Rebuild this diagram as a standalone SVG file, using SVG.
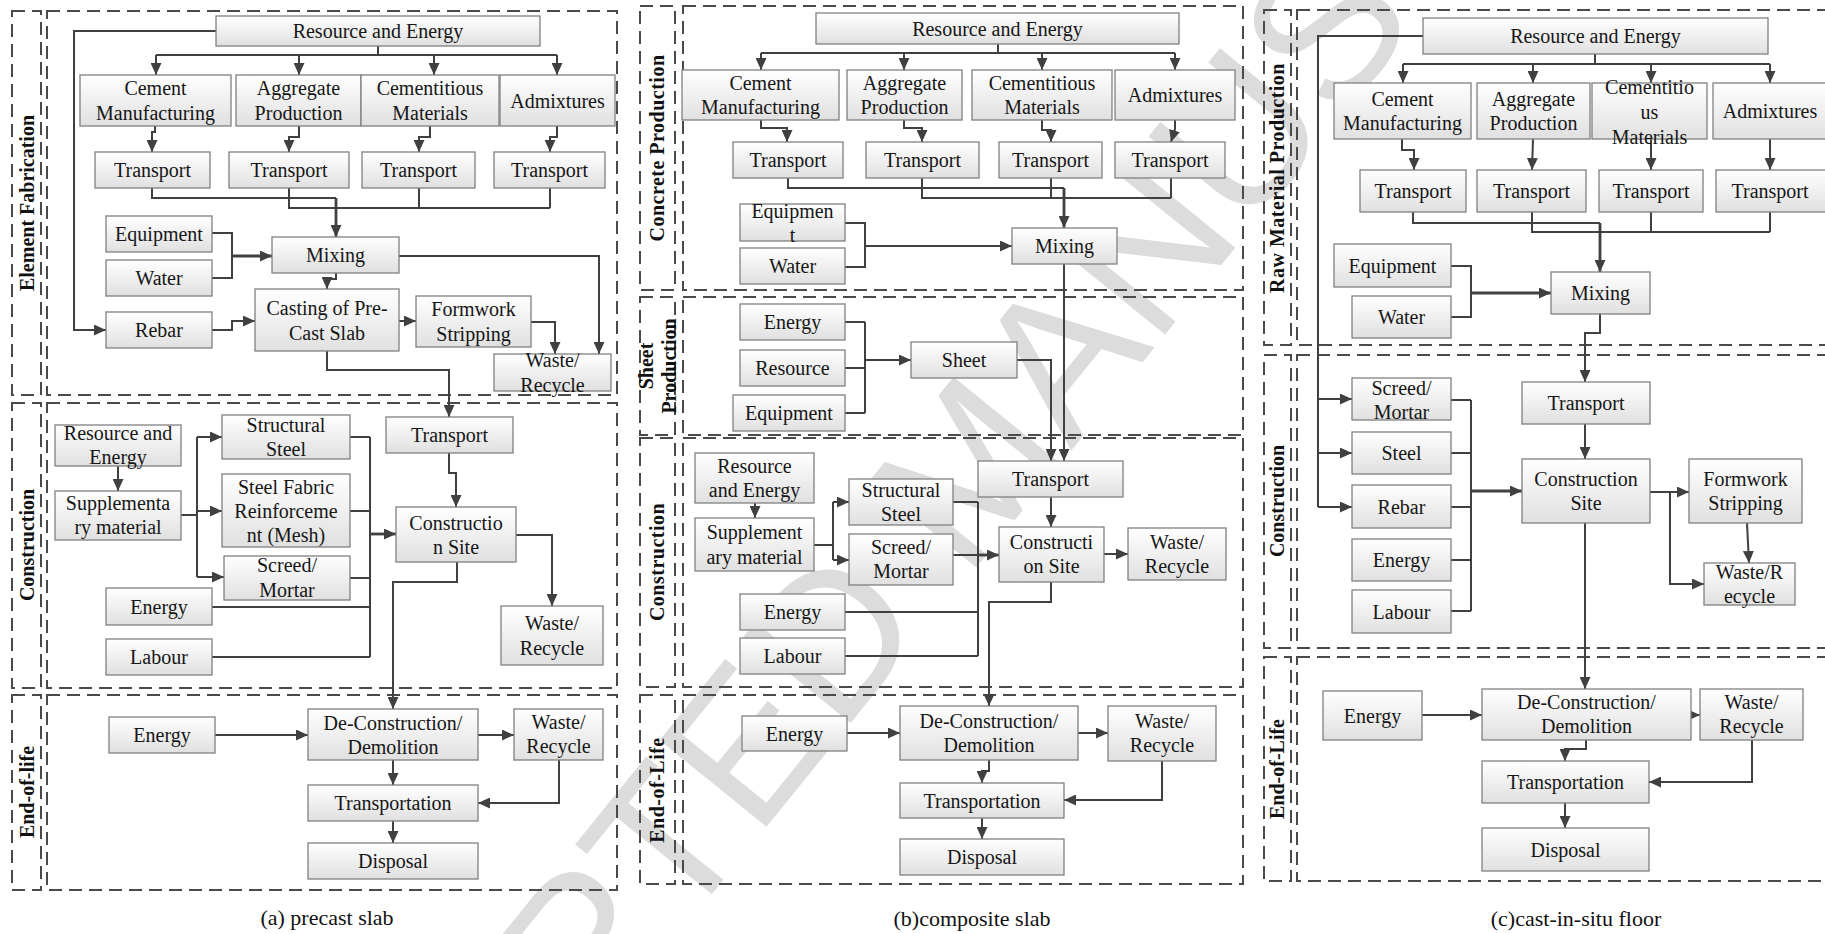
<svg xmlns="http://www.w3.org/2000/svg" width="1825" height="934" viewBox="0 0 1825 934">
<defs>
<linearGradient id="gr" x1="0" y1="0" x2="0" y2="1">
<stop offset="0" stop-color="#ffffff"/>
<stop offset="1" stop-color="#e0e0e0"/>
</linearGradient>
<marker id="ah" markerUnits="userSpaceOnUse" markerWidth="13" markerHeight="11" refX="12" refY="5.5" orient="auto">
<path d="M0,0 L12,5.5 L0,11 z" fill="#404040"/>
</marker>
<style>
.n rect{fill:url(#gr);stroke:#808080;stroke-width:1.3}
.t{font-family:"Liberation Serif","Times New Roman",serif;font-size:20px;text-anchor:middle;dominant-baseline:central;fill:#161616}
.lb{font-family:"Liberation Serif","Times New Roman",serif;font-size:20px;font-weight:bold;text-anchor:middle;dominant-baseline:central;fill:#111}
.cap{font-family:"Liberation Serif","Times New Roman",serif;font-size:22px;text-anchor:middle;dominant-baseline:central;fill:#111}
.fr{fill:none;stroke:#4a4a4a;stroke-width:2;stroke-dasharray:13 7}
.c path{fill:none;stroke:#404040;stroke-width:2}
.c path.a{marker-end:url(#ah)}
.c path.k{stroke-width:2.8}
.wm{font-family:"Liberation Sans",Arial,sans-serif;font-size:200px;fill:#dcdcdc;text-anchor:middle}
</style>
</defs>
<rect x="0" y="0" width="1825" height="934" fill="#ffffff"/>
<text class="wm" transform="translate(966,466) rotate(-51)" dy="0.36em">ACCEPTED MANUSCRIPT</text>

<g id="frames">
<rect class="fr" x="12" y="11" width="29" height="384"/>
<rect class="fr" x="47" y="11" width="570" height="384"/>
<rect class="fr" x="12" y="403" width="29" height="285"/>
<rect class="fr" x="47" y="403" width="570" height="285"/>
<rect class="fr" x="12" y="695" width="29" height="195"/>
<rect class="fr" x="47" y="695" width="570" height="195"/>
<rect class="fr" x="640" y="6" width="35" height="284"/>
<rect class="fr" x="683" y="6" width="560" height="284"/>
<rect class="fr" x="640" y="297" width="35" height="138"/>
<rect class="fr" x="683" y="297" width="560" height="138"/>
<rect class="fr" x="640" y="438" width="35" height="249"/>
<rect class="fr" x="683" y="438" width="560" height="249"/>
<rect class="fr" x="640" y="695" width="35" height="189"/>
<rect class="fr" x="683" y="695" width="560" height="189"/>
<rect class="fr" x="1264" y="10" width="27" height="335"/>
<rect class="fr" x="1297" y="10" width="560" height="335"/>
<rect class="fr" x="1264" y="355" width="27" height="293"/>
<rect class="fr" x="1297" y="355" width="560" height="293"/>
<rect class="fr" x="1264" y="657" width="27" height="224"/>
<rect class="fr" x="1297" y="657" width="560" height="224"/>
</g>

<g id="labels">
<text class="lb" transform="translate(27,203) rotate(-90)">Element Fabrication</text>
<text class="lb" transform="translate(27,545) rotate(-90)">Construction</text>
<text class="lb" transform="translate(27,792) rotate(-90)">End-of-life</text>
<text class="lb" transform="translate(657,148) rotate(-90)" letter-spacing="0.5">Concrete Production</text>
<text class="lb" transform="translate(646,366) rotate(-90)">Sheet</text>
<text class="lb" transform="translate(669,366) rotate(-90)">Production</text>
<text class="lb" transform="translate(657,562) rotate(-90)" letter-spacing="0.5">Construction</text>
<text class="lb" transform="translate(657,790) rotate(-90)" letter-spacing="0.5">End-of-Life</text>
<text class="lb" transform="translate(1277,178) rotate(-90)" letter-spacing="0.5">Raw Material Production</text>
<text class="lb" transform="translate(1277,501) rotate(-90)">Construction</text>
<text class="lb" transform="translate(1277,769) rotate(-90)">End-of-Life</text>
</g>

<g id="connectors" class="c">
<!-- panel a -->
<path d="M378,46 V55 M156,55 H557"/>
<path class="a" d="M156,55 V75"/>
<path class="a" d="M299,55 V75"/>
<path class="a" d="M434,55 V75"/>
<path class="a" d="M557,55 V75"/>
<path class="a" d="M155,126 V132 H152 V152"/>
<path class="a" d="M299,126 V137 H289 V152"/>
<path class="a" d="M430,126 V137 H419 V152"/>
<path class="a" d="M557,126 V137 H550 V152"/>
<path d="M152,188 V198 H336"/>
<path class="a k" d="M336,198 V237"/>
<path d="M289,188 V208 H550 M419,188 V208 M550,188 V208"/>
<path d="M212,233 H232 V278 H212"/>
<path class="a k" d="M232,256 H272"/>
<path class="a" d="M399,256 H599 V354"/>
<path class="a" d="M336,273 V279 H327 V289"/>
<path class="a" d="M216,31 H74 V330 H106"/>
<path class="a" d="M212,330 H232 V321 H255"/>
<path class="a" d="M399,321 H416"/>
<path class="a" d="M531,322 H555 V354"/>
<path class="a" d="M327,351 V370 H449 V417"/>
<path class="a" d="M118,466 V491"/>
<path d="M181,515 H197 M197,437 V577"/>
<path class="a" d="M197,437 H222"/>
<path class="a" d="M197,511 H222"/>
<path class="a" d="M197,577 H224"/>
<path d="M350,437 H370 M350,511 H370 M350,578 H370 M212,607 H370 M212,657 H370 M370,437 V657"/>
<path class="a k" d="M370,534 H396"/>
<path class="a" d="M449,453 V473 H456 V507"/>
<path class="a" d="M516,535 H552 V606"/>
<path class="a" d="M457,562 V582 H393 V709"/>
<path class="a" d="M215,735 H308"/>
<path class="a" d="M478,735 H514"/>
<path class="a" d="M393,760 V785"/>
<path class="a" d="M559,760 V803 H478"/>
<path class="a" d="M393,821 V843"/>
<!-- panel b -->
<path d="M998,44 V53 M761,53 H1175"/>
<path class="a" d="M761,53 V70"/>
<path class="a" d="M904,53 V70"/>
<path class="a" d="M1042,53 V70"/>
<path class="a" d="M1175,53 V70"/>
<path class="a" d="M761,120 V128 H787 V142"/>
<path class="a" d="M904,120 V128 H922 V142"/>
<path class="a" d="M1042,120 V130 H1051 V142"/>
<path class="a" d="M1175,120 V129 L1171,142"/>
<path d="M788,178 V188 H1064"/>
<path class="a k" d="M1064,188 V228"/>
<path d="M922,178 V198 H1171 M1051,178 V198 M1171,178 V198"/>
<path d="M845,223 H865 V267 H845"/>
<path class="a" d="M865,246 H1012"/>
<path class="a" d="M1064,264 V461"/>
<path d="M845,322 H865 M845,368 H865 M845,413 H865 M865,322 V413"/>
<path class="a" d="M865,360 H911"/>
<path class="a" d="M1017,360 H1051 V461"/>
<path class="a" d="M755,503 V518"/>
<path d="M814,545 H833 M833,502 V560"/>
<path class="a" d="M833,502 H849"/>
<path class="a" d="M833,560 H849"/>
<path d="M953,502 H978 M953,555 H978 M845,612 H978 M845,656 H978 M978,502 V656"/>
<path class="a k" d="M978,555 H999"/>
<path class="a" d="M1051,497 V527"/>
<path class="a" d="M1104,554 H1128"/>
<path class="a" d="M1051,582 V602 H989 V706"/>
<path class="a" d="M847,733 H900"/>
<path class="a" d="M1078,733 H1108"/>
<path class="a" d="M989,760 V771 H982 V783"/>
<path class="a" d="M1162,761 V800 H1064"/>
<path class="a" d="M982,818 V839"/>
<!-- panel c -->
<path d="M1595,54 V64 M1403,64 H1770"/>
<path class="a" d="M1403,64 V83"/>
<path class="a" d="M1533,64 V83"/>
<path class="a" d="M1651,64 V83"/>
<path class="a" d="M1770,64 V83"/>
<path class="a" d="M1402,139 V150 H1414 V170"/>
<path class="a" d="M1533,139 L1532,170"/>
<path class="a" d="M1651,139 V170"/>
<path class="a" d="M1770,139 V170"/>
<path d="M1413,212 V223 H1600"/>
<path class="a k" d="M1600,223 V272"/>
<path d="M1532,212 V232 H1770 M1651,212 V232 M1770,212 V232"/>
<path d="M1451,266 H1471 V317 H1451"/>
<path class="a k" d="M1471,293 H1551"/>
<path class="a" d="M1600,314 V333 H1585 V382"/>
<path d="M1423,36 H1318 V507"/>
<path class="a" d="M1318,399 H1352"/>
<path class="a" d="M1318,453 H1352"/>
<path class="a" d="M1318,507 H1352"/>
<path d="M1451,400 H1471 M1451,453 H1471 M1451,507 H1471 M1451,560 H1471 M1451,611 H1471 M1471,400 V611"/>
<path class="a k" d="M1471,491 H1522"/>
<path class="a" d="M1585,424 V459"/>
<path class="a" d="M1650,492 H1689"/>
<path class="a" d="M1670,492 V584 H1704"/>
<path class="a" d="M1747,523 L1749,563"/>
<path class="a" d="M1585,523 V689"/>
<path class="a" d="M1422,715 H1482"/>
<path class="a" d="M1688,715 H1700"/>
<path class="a" d="M1586,740 V749 H1565 V761"/>
<path class="a" d="M1752,740 V782 H1649"/>
<path class="a" d="M1565,803 V828"/>
</g>

<!-- panel a nodes -->
<g id="a_re" class="n"><rect x="216" y="16" width="324" height="30"/><text class="t" x="378" y="31">Resource and Energy</text></g>
<g id="a_cm" class="n"><rect x="80" y="75" width="151" height="51"/><text class="t"><tspan x="155.5" y="88">Cement</tspan><tspan x="155.5" y="113">Manufacturing</tspan></text></g>
<g id="a_ap" class="n"><rect x="236" y="75" width="125" height="51"/><text class="t"><tspan x="298.5" y="88">Aggregate</tspan><tspan x="298.5" y="113">Production</tspan></text></g>
<g id="a_cmt" class="n"><rect x="361" y="75" width="138" height="51"/><text class="t"><tspan x="430" y="88">Cementitious</tspan><tspan x="430" y="113">Materials</tspan></text></g>
<g id="a_adm" class="n"><rect x="500" y="75" width="115" height="51"/><text class="t" x="557.5" y="100.5">Admixtures</text></g>
<g id="a_t1" class="n"><rect x="95" y="152" width="115" height="36"/><text class="t" x="152.5" y="170">Transport</text></g>
<g id="a_t2" class="n"><rect x="229" y="152" width="120" height="36"/><text class="t" x="289" y="170">Transport</text></g>
<g id="a_t3" class="n"><rect x="362" y="152" width="113" height="36"/><text class="t" x="418.5" y="170">Transport</text></g>
<g id="a_t4" class="n"><rect x="494" y="152" width="111" height="36"/><text class="t" x="549.5" y="170">Transport</text></g>
<g id="a_eq" class="n"><rect x="106" y="216" width="106" height="36"/><text class="t" x="159" y="234">Equipment</text></g>
<g id="a_wa" class="n"><rect x="106" y="260" width="106" height="36"/><text class="t" x="159" y="278">Water</text></g>
<g id="a_mix" class="n"><rect x="272" y="237" width="127" height="36"/><text class="t" x="335.5" y="255">Mixing</text></g>
<g id="a_reb" class="n"><rect x="106" y="312" width="106" height="36"/><text class="t" x="159" y="330">Rebar</text></g>
<g id="a_cast" class="n"><rect x="255" y="289" width="144" height="62"/><text class="t"><tspan x="327" y="307.5">Casting of Pre-</tspan><tspan x="327" y="332.5">Cast Slab</tspan></text></g>
<g id="a_form" class="n"><rect x="416" y="296" width="115" height="51"/><text class="t"><tspan x="473.5" y="309">Formwork</tspan><tspan x="473.5" y="334">Stripping</tspan></text></g>
<g id="a_w1" class="n"><rect x="494" y="354" width="117" height="37"/><text class="t"><tspan x="552.5" y="360">Waste/</tspan><tspan x="552.5" y="385">Recycle</tspan></text></g>
<g id="a_re2" class="n"><rect x="55" y="425" width="126" height="41"/><text class="t"><tspan x="118" y="433">Resource and</tspan><tspan x="118" y="457">Energy</tspan></text></g>
<g id="a_sup" class="n"><rect x="55" y="491" width="126" height="49"/><text class="t"><tspan x="118" y="503">Supplementa</tspan><tspan x="118" y="527">ry material</tspan></text></g>
<g id="a_ss" class="n"><rect x="222" y="415" width="128" height="44"/><text class="t"><tspan x="286" y="425">Structural</tspan><tspan x="286" y="449">Steel</tspan></text></g>
<g id="a_sfr" class="n"><rect x="222" y="474" width="128" height="73"/><text class="t"><tspan x="286" y="486.5">Steel Fabric</tspan><tspan x="286" y="511">Reinforceme</tspan><tspan x="286" y="535">nt (Mesh)</tspan></text></g>
<g id="a_sm" class="n"><rect x="224" y="556" width="126" height="44"/><text class="t"><tspan x="287" y="565">Screed/</tspan><tspan x="287" y="590">Mortar</tspan></text></g>
<g id="a_en" class="n"><rect x="106" y="588" width="106" height="37"/><text class="t" x="159" y="606.5">Energy</text></g>
<g id="a_lab" class="n"><rect x="106" y="639" width="106" height="36"/><text class="t" x="159" y="657">Labour</text></g>
<g id="a_tr" class="n"><rect x="386" y="417" width="127" height="36"/><text class="t" x="449.5" y="435">Transport</text></g>
<g id="a_cs" class="n"><rect x="396" y="507" width="120" height="55"/><text class="t"><tspan x="456" y="522.5">Constructio</tspan><tspan x="456" y="546.5">n Site</tspan></text></g>
<g id="a_w2" class="n"><rect x="501" y="606" width="102" height="59"/><text class="t"><tspan x="552" y="623">Waste/</tspan><tspan x="552" y="647.5">Recycle</tspan></text></g>
<g id="a_en3" class="n"><rect x="109" y="717" width="106" height="36"/><text class="t" x="162" y="735">Energy</text></g>
<g id="a_dec" class="n"><rect x="308" y="709" width="170" height="51"/><text class="t"><tspan x="393" y="722.5">De-Construction/</tspan><tspan x="393" y="746.5">Demolition</tspan></text></g>
<g id="a_w3" class="n"><rect x="514" y="709" width="89" height="51"/><text class="t"><tspan x="558.5" y="722">Waste/</tspan><tspan x="558.5" y="746">Recycle</tspan></text></g>
<g id="a_trn" class="n"><rect x="308" y="785" width="170" height="36"/><text class="t" x="393" y="803">Transportation</text></g>
<g id="a_dis" class="n"><rect x="308" y="843" width="170" height="36"/><text class="t" x="393" y="861">Disposal</text></g>

<!-- panel b nodes -->
<g id="b_re" class="n"><rect x="816" y="13" width="363" height="31"/><text class="t" x="997.5" y="28.5">Resource and Energy</text></g>
<g id="b_cm" class="n"><rect x="682" y="70" width="157" height="50"/><text class="t"><tspan x="760.5" y="83">Cement</tspan><tspan x="760.5" y="107">Manufacturing</tspan></text></g>
<g id="b_ap" class="n"><rect x="847" y="70" width="115" height="50"/><text class="t"><tspan x="904.5" y="83">Aggregate</tspan><tspan x="904.5" y="107">Production</tspan></text></g>
<g id="b_cmt" class="n"><rect x="972" y="70" width="140" height="50"/><text class="t"><tspan x="1042" y="83">Cementitious</tspan><tspan x="1042" y="107">Materials</tspan></text></g>
<g id="b_adm" class="n"><rect x="1115" y="70" width="120" height="50"/><text class="t" x="1175" y="95">Admixtures</text></g>
<g id="b_t1" class="n"><rect x="733" y="142" width="110" height="36"/><text class="t" x="788" y="160">Transport</text></g>
<g id="b_t2" class="n"><rect x="866" y="142" width="113" height="36"/><text class="t" x="922.5" y="160">Transport</text></g>
<g id="b_t3" class="n"><rect x="999" y="142" width="103" height="36"/><text class="t" x="1050.5" y="160">Transport</text></g>
<g id="b_t4" class="n"><rect x="1115" y="142" width="110" height="36"/><text class="t" x="1170" y="160">Transport</text></g>
<g id="b_eq" class="n"><rect x="740" y="204" width="105" height="37"/><text class="t"><tspan x="792.5" y="211">Equipmen</tspan><tspan x="792.5" y="235">t</tspan></text></g>
<g id="b_wa" class="n"><rect x="740" y="248" width="105" height="36"/><text class="t" x="792.5" y="266">Water</text></g>
<g id="b_mix" class="n"><rect x="1012" y="228" width="105" height="36"/><text class="t" x="1064.5" y="246">Mixing</text></g>
<g id="b_sen" class="n"><rect x="740" y="304" width="105" height="36"/><text class="t" x="792.5" y="322">Energy</text></g>
<g id="b_sres" class="n"><rect x="740" y="350" width="105" height="36"/><text class="t" x="792.5" y="368">Resource</text></g>
<g id="b_seq" class="n"><rect x="733" y="395" width="112" height="36"/><text class="t" x="789" y="413">Equipment</text></g>
<g id="b_sh" class="n"><rect x="911" y="342" width="106" height="36"/><text class="t" x="964" y="360">Sheet</text></g>
<g id="b_re3" class="n"><rect x="695" y="453" width="119" height="50"/><text class="t"><tspan x="754.5" y="466">Resource</tspan><tspan x="754.5" y="490">and Energy</tspan></text></g>
<g id="b_sup" class="n"><rect x="695" y="518" width="119" height="53"/><text class="t"><tspan x="754.5" y="532">Supplement</tspan><tspan x="754.5" y="557">ary material</tspan></text></g>
<g id="b_ss" class="n"><rect x="849" y="479" width="104" height="46"/><text class="t"><tspan x="901" y="490">Structural</tspan><tspan x="901" y="514">Steel</tspan></text></g>
<g id="b_sm" class="n"><rect x="849" y="534" width="104" height="51"/><text class="t"><tspan x="901" y="547">Screed/</tspan><tspan x="901" y="571">Mortar</tspan></text></g>
<g id="b_en" class="n"><rect x="740" y="594" width="105" height="36"/><text class="t" x="792.5" y="612">Energy</text></g>
<g id="b_lab" class="n"><rect x="740" y="638" width="105" height="36"/><text class="t" x="792.5" y="656">Labour</text></g>
<g id="b_tr" class="n"><rect x="978" y="461" width="145" height="36"/><text class="t" x="1050.5" y="479">Transport</text></g>
<g id="b_cs" class="n"><rect x="999" y="527" width="105" height="55"/><text class="t"><tspan x="1051.5" y="542">Constructi</tspan><tspan x="1051.5" y="566">on Site</tspan></text></g>
<g id="b_w" class="n"><rect x="1128" y="528" width="98" height="52"/><text class="t"><tspan x="1177" y="542">Waste/</tspan><tspan x="1177" y="566">Recycle</tspan></text></g>
<g id="b_en4" class="n"><rect x="742" y="716" width="105" height="35"/><text class="t" x="794.5" y="733.5">Energy</text></g>
<g id="b_dec" class="n"><rect x="900" y="706" width="178" height="54"/><text class="t"><tspan x="989" y="721">De-Construction/</tspan><tspan x="989" y="745">Demolition</tspan></text></g>
<g id="b_w4" class="n"><rect x="1108" y="706" width="108" height="55"/><text class="t"><tspan x="1162" y="721">Waste/</tspan><tspan x="1162" y="745">Recycle</tspan></text></g>
<g id="b_trn" class="n"><rect x="900" y="783" width="164" height="35"/><text class="t" x="982" y="800.5">Transportation</text></g>
<g id="b_dis" class="n"><rect x="900" y="839" width="164" height="36"/><text class="t" x="982" y="857">Disposal</text></g>

<!-- panel c nodes -->
<g id="c_re" class="n"><rect x="1423" y="18" width="345" height="36"/><text class="t" x="1595.5" y="36">Resource and Energy</text></g>
<g id="c_cm" class="n"><rect x="1334" y="83" width="137" height="56"/><text class="t"><tspan x="1402.5" y="99">Cement</tspan><tspan x="1402.5" y="123">Manufacturing</tspan></text></g>
<g id="c_ap" class="n"><rect x="1477" y="83" width="113" height="56"/><text class="t"><tspan x="1533.5" y="99">Aggregate</tspan><tspan x="1533.5" y="123">Production</tspan></text></g>
<g id="c_cmt" class="n"><rect x="1592" y="83" width="115" height="56"/><text class="t"><tspan x="1649.5" y="87">Cementitio</tspan><tspan x="1649.5" y="112">us</tspan><tspan x="1649.5" y="137">Materials</tspan></text></g>
<g id="c_adm" class="n"><rect x="1713" y="83" width="115" height="56"/><text class="t" x="1770" y="111">Admixtures</text></g>
<g id="c_t1" class="n"><rect x="1360" y="170" width="106" height="42"/><text class="t" x="1413" y="191">Transport</text></g>
<g id="c_t2" class="n"><rect x="1477" y="170" width="109" height="42"/><text class="t" x="1531.5" y="191">Transport</text></g>
<g id="c_t3" class="n"><rect x="1599" y="170" width="104" height="42"/><text class="t" x="1651" y="191">Transport</text></g>
<g id="c_t4" class="n"><rect x="1716" y="170" width="110" height="42"/><text class="t" x="1770" y="191">Transport</text></g>
<g id="c_eq" class="n"><rect x="1334" y="244" width="117" height="43"/><text class="t" x="1392.5" y="265.5">Equipment</text></g>
<g id="c_wa" class="n"><rect x="1352" y="296" width="99" height="42"/><text class="t" x="1401.5" y="317">Water</text></g>
<g id="c_mix" class="n"><rect x="1551" y="272" width="99" height="42"/><text class="t" x="1600.5" y="293">Mixing</text></g>
<g id="c_sm" class="n"><rect x="1352" y="378" width="99" height="42"/><text class="t"><tspan x="1401.5" y="388">Screed/</tspan><tspan x="1401.5" y="412">Mortar</tspan></text></g>
<g id="c_st" class="n"><rect x="1352" y="432" width="99" height="42"/><text class="t" x="1401.5" y="453">Steel</text></g>
<g id="c_rb" class="n"><rect x="1352" y="485" width="99" height="43"/><text class="t" x="1401.5" y="506.5">Rebar</text></g>
<g id="c_en" class="n"><rect x="1352" y="539" width="99" height="42"/><text class="t" x="1401.5" y="560">Energy</text></g>
<g id="c_lab" class="n"><rect x="1352" y="590" width="99" height="43"/><text class="t" x="1401.5" y="611.5">Labour</text></g>
<g id="c_tr" class="n"><rect x="1522" y="382" width="128" height="42"/><text class="t" x="1586" y="403">Transport</text></g>
<g id="c_cs" class="n"><rect x="1522" y="459" width="128" height="64"/><text class="t"><tspan x="1586" y="479">Construction</tspan><tspan x="1586" y="503">Site</tspan></text></g>
<g id="c_fm" class="n"><rect x="1689" y="459" width="113" height="64"/><text class="t"><tspan x="1745.5" y="479">Formwork</tspan><tspan x="1745.5" y="503">Stripping</tspan></text></g>
<g id="c_w" class="n"><rect x="1704" y="563" width="91" height="42"/><text class="t"><tspan x="1749.5" y="572">Waste/R</tspan><tspan x="1749.5" y="596">ecycle</tspan></text></g>
<g id="c_en3" class="n"><rect x="1323" y="691" width="99" height="49"/><text class="t" x="1372.5" y="715.5">Energy</text></g>
<g id="c_dec" class="n"><rect x="1482" y="689" width="209" height="51"/><text class="t"><tspan x="1586.5" y="702">De-Construction/</tspan><tspan x="1586.5" y="726">Demolition</tspan></text></g>
<g id="c_w3" class="n"><rect x="1700" y="689" width="103" height="51"/><text class="t"><tspan x="1751.5" y="702">Waste/</tspan><tspan x="1751.5" y="726">Recycle</tspan></text></g>
<g id="c_trn" class="n"><rect x="1482" y="761" width="167" height="42"/><text class="t" x="1565.5" y="782">Transportation</text></g>
<g id="c_dis" class="n"><rect x="1482" y="828" width="167" height="43"/><text class="t" x="1565.5" y="849.5">Disposal</text></g>

<g id="captions">
<text class="cap" x="327" y="917">(a) precast slab</text>
<text class="cap" x="972" y="918">(b)composite slab</text>
<text class="cap" x="1576" y="918">(c)cast-in-situ floor</text>
</g>
</svg>
